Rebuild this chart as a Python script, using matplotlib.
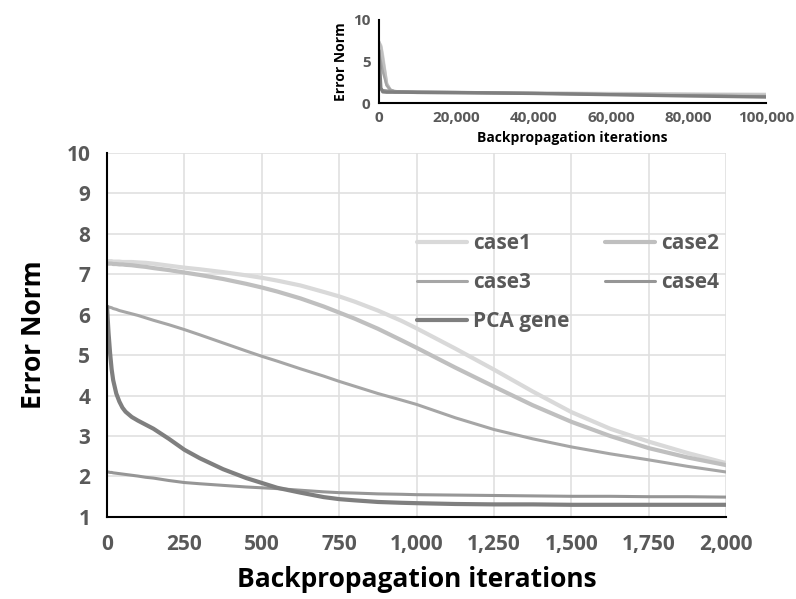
import numpy as np
import matplotlib.pyplot as plt
from matplotlib.ticker import FuncFormatter

# main chart data
iters = [0, 5, 10, 15, 20, 30, 40, 50, 60, 80, 100, 125, 150, 200, 250, 300, 375,
         450, 500, 550, 625, 700, 750, 800, 875, 950, 1000, 1125, 1250, 1375, 1500,
         1625, 1750, 1875, 2000]
case1 = [7.32, 7.32, 7.32, 7.32, 7.31, 7.31, 7.31, 7.30, 7.30, 7.30, 7.29, 7.28,
         7.26, 7.21, 7.16, 7.12, 7.05, 6.97, 6.91, 6.84, 6.72, 6.56, 6.45, 6.32,
         6.10, 5.85, 5.66, 5.16, 4.64, 4.10, 3.59, 3.18, 2.86, 2.58, 2.33]
case2 = [7.26, 7.26, 7.26, 7.26, 7.25, 7.25, 7.24, 7.24, 7.23, 7.22, 7.20, 7.18,
         7.15, 7.10, 7.04, 6.98, 6.88, 6.76, 6.67, 6.57, 6.40, 6.20, 6.05, 5.90,
         5.65, 5.37, 5.18, 4.69, 4.22, 3.76, 3.35, 3.00, 2.70, 2.47, 2.28]
case3 = [6.20, 6.19, 6.18, 6.17, 6.15, 6.13, 6.10, 6.08, 6.06, 6.02, 5.98, 5.92,
         5.86, 5.75, 5.63, 5.50, 5.30, 5.10, 4.97, 4.85, 4.66, 4.48, 4.35, 4.23,
         4.05, 3.89, 3.78, 3.45, 3.16, 2.93, 2.73, 2.56, 2.41, 2.25, 2.11]
case4 = [2.11, 2.11, 2.10, 2.10, 2.09, 2.08, 2.07, 2.06, 2.05, 2.03, 2.01, 1.98,
         1.96, 1.90, 1.85, 1.82, 1.78, 1.74, 1.72, 1.70, 1.66, 1.62, 1.60, 1.59,
         1.57, 1.56, 1.55, 1.54, 1.53, 1.52, 1.51, 1.51, 1.50, 1.50, 1.49]
pca = [6.20, 5.55, 5.05, 4.65, 4.38, 4.05, 3.85, 3.70, 3.60, 3.47, 3.38, 3.28,
       3.18, 2.93, 2.66, 2.45, 2.18, 1.96, 1.84, 1.72, 1.60, 1.49, 1.44, 1.41,
       1.37, 1.35, 1.34, 1.32, 1.31, 1.31, 1.30, 1.30, 1.30, 1.30, 1.30]

# inset data (100k iterations)
iters_long = [0, 500, 1000, 2000, 3000, 4000, 6000, 10000, 20000, 40000, 60000, 80000, 100000]
case1_long = [7.3, 6.9, 5.6, 2.3, 1.5, 1.35, 1.3, 1.28, 1.25, 1.2, 1.15, 1.1, 1.05]
case2_long = [7.3, 6.7, 5.2, 2.3, 1.5, 1.35, 1.3, 1.27, 1.24, 1.18, 1.1, 1.02, 0.95]
case3_long = [6.2, 5.0, 3.8, 2.1, 1.6, 1.45, 1.35, 1.3, 1.25, 1.15, 1.0, 0.9, 0.8]
case4_long = [2.1, 1.7, 1.55, 1.5, 1.45, 1.42, 1.4, 1.37, 1.33, 1.2, 1.05, 0.9, 0.78]
pca_long = [6.2, 1.8, 1.34, 1.3, 1.3, 1.3, 1.3, 1.28, 1.25, 1.15, 1.0, 0.85, 0.72]

labels = ['case1', 'case2', 'case3', 'case4', 'PCA gene']
colors = ['#d9d9d9', '#bfbfbf', '#a6a6a6', '#969696', '#7f7f7f']
widths = [3, 3, 2.2, 2.2, 3]

plt.rcParams['font.family'] = ['Open Sans', 'DejaVu Sans']
tick_col = '#595959'
fmt = FuncFormatter(lambda v, p: f'{int(v):,}')

fig = plt.figure(figsize=(7.96, 5.99), dpi=100)
ax = fig.add_axes([0.1344, 0.137, 0.778, 0.608])

series = [case1, case2, case3, case4, pca]
lines = []
for ys, lab, c, w in zip(series, labels, colors, widths):
    ln, = ax.plot(iters, ys, color=c, lw=w, label=lab, solid_capstyle='round')
    lines.append(ln)

ax.set_xlim(0, 2000)
ax.set_ylim(1, 10)
ax.set_xticks(np.arange(0, 2001, 250))
ax.set_yticks(np.arange(1, 11, 1))
ax.xaxis.set_major_formatter(fmt)
ax.grid(True, color='#e0e0e0', lw=1.2)
ax.set_axisbelow(True)
for s in ['top', 'right']:
    ax.spines[s].set_visible(False)
for s in ['left', 'bottom']:
    ax.spines[s].set_color('black')
    ax.spines[s].set_linewidth(1.5)
ax.tick_params(length=0, labelsize=15, labelcolor=tick_col, pad=12)
for t in ax.get_xticklabels() + ax.get_yticklabels():
    t.set_fontweight('bold')
ax.set_xlabel('Backpropagation iterations', fontsize=19, fontweight='bold', labelpad=8)
ax.set_ylabel('Error Norm', fontsize=19, fontweight='bold', labelpad=14)

# row-wise order: case1 case2 / case3 case4 / PCA gene
order = [0, 2, 4, 1, 3]
leg = ax.legend([lines[i] for i in order], [labels[i] for i in order], ncol=2,
                loc='upper left', bbox_to_anchor=(0.47, 0.83), frameon=False,
                fontsize=15, handlelength=2.4, handletextpad=0.3, columnspacing=1.7,
                labelspacing=0.85)
for t in leg.get_texts():
    t.set_color(tick_col)
    t.set_fontweight('bold')

# inset
ax2 = fig.add_axes([0.476, 0.828, 0.486, 0.139])
series_long = [case1_long, case2_long, case3_long, case4_long, pca_long]
for ys, c, w in zip(series_long, colors, widths):
    ax2.plot(iters_long, ys, color=c, lw=w * 0.8)
ax2.set_xlim(0, 100000)
ax2.set_ylim(0, 10)
ax2.set_xticks(np.arange(0, 100001, 20000))
ax2.set_yticks([0, 5, 10])
ax2.xaxis.set_major_formatter(fmt)
for s in ['top', 'right']:
    ax2.spines[s].set_visible(False)
for s in ['left', 'bottom']:
    ax2.spines[s].set_color('black')
    ax2.spines[s].set_linewidth(1.5)
ax2.tick_params(length=0, labelsize=11, labelcolor=tick_col, pad=6)
for t in ax2.get_xticklabels() + ax2.get_yticklabels():
    t.set_fontweight('bold')
ax2.set_xlabel('Backpropagation iterations', fontsize=10, fontweight='bold', labelpad=4)
ax2.set_ylabel('Error Norm', fontsize=10, fontweight='bold', labelpad=4)

fig.savefig('out.png', dpi=100)
